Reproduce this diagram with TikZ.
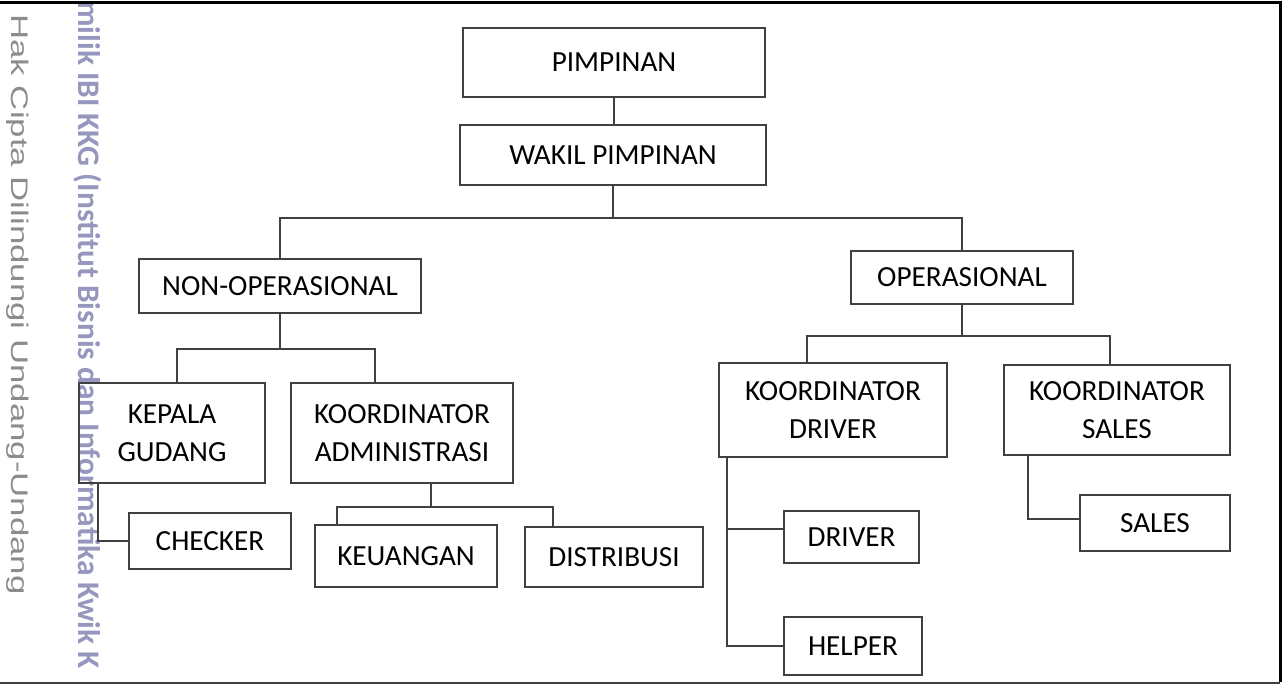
\documentclass[tikz,border=0pt]{standalone}
\usepackage{fontspec}
\setmainfont{Carlito}
\newfontfamily\hakfont[FakeStretch=1.45]{Liberation Sans}
\usepackage{xcolor}
\definecolor{linegray}{RGB}{64,64,64}
\definecolor{wmblue}{RGB}{150,150,190}
\definecolor{wmgray}{RGB}{140,140,140}

\begin{document}
\begin{tikzpicture}[x=0.5pt,y=-0.5pt,
  box/.style={draw=linegray, line width=1pt, align=center, inner sep=0pt, font=\fontsize{14.6}{19}\selectfont},
  link/.style={draw=linegray, line width=1pt}]
\useasboundingbox (0,0) rectangle (1285,684);

\node [rotate=-90, anchor=west, inner sep=0pt, text=wmgray, font=\hakfont\fontsize{12}{14}\selectfont] (hak) at (18,14) {Hak Cipta Dilindungi Undang-Undang};
\node [rotate=-90, anchor=west, inner sep=0pt, text=wmblue, font=\bfseries\fontsize{15.7}{18}\selectfont] (milik) at (88,1) {milik IBI KKG (Institut Bisnis dan Informatika Kwik K};

\draw [line width=1.5pt] (0,3) -- (1280,3) -- (1280,682);
\draw [line width=1pt, linegray] (0,682.5) -- (1280,682.5);

\node [box, minimum width=151pt, minimum height=34.5pt] (pimpinan) at (614,62.5) {PIMPINAN};
\node [box, minimum width=153pt, minimum height=30pt] (wakil) at (613,155) {WAKIL PIMPINAN};
\node [box, minimum width=141pt, minimum height=27pt] (nonop) at (280,286) {NON-OPERASIONAL};
\node [box, minimum width=111pt, minimum height=26.5pt] (oper) at (962,277.5) {OPERASIONAL};
\node [box, minimum width=93pt, minimum height=50pt] (kepala) at (172,433) {KEPALA\\GUDANG};
\node [box, minimum width=111pt, minimum height=50pt] (kadmin) at (402,433) {KOORDINATOR\\ADMINISTRASI};
\node [box, minimum width=81pt, minimum height=28pt] (checker) at (210,541) {CHECKER};
\node [box, minimum width=91pt, minimum height=31pt] (keuangan) at (406,556) {KEUANGAN};
\node [box, minimum width=89pt, minimum height=30pt] (distribusi) at (614,557) {DISTRIBUSI};
\node [box, minimum width=114pt, minimum height=47pt] (kdriver) at (833,410) {KOORDINATOR\\DRIVER};
\node [box, minimum width=113pt, minimum height=45pt] (ksales) at (1117,410) {KOORDINATOR\\SALES};
\node [box, minimum width=67.5pt, minimum height=26pt] (driver) at (851.5,537) {DRIVER};
\node [box, minimum width=69pt, minimum height=29pt] (helper) at (853,646) {HELPER};
\node [box, minimum width=75pt, minimum height=28pt] (sales) at (1155,523) {SALES};

\draw [link] (pimpinan.south) -- (pimpinan.south |- wakil.north);
\coordinate (topbus) at (613,218);
\draw [link] (wakil.south) -- (topbus);
\draw [link] (nonop.north) |- (topbus) -| (oper.north);

\coordinate (nonbus) at (280,349);
\draw [link] (nonop.south) -- (nonbus);
\draw [link] ([xshift=2.5pt]kepala.north) |- (nonbus) -| ([xshift=-13.5pt]kadmin.north);

\coordinate (opbus) at (962,336);
\draw [link] (oper.south) -- (opbus);
\draw [link] ([xshift=-13pt]kdriver.north) |- (opbus) -| ([xshift=-3.5pt]ksales.north);

\coordinate (admbus) at (431,507);
\draw [link] ([xshift=14.5pt]kadmin.south) -- (admbus);
\draw [link] ([xshift=-34.5pt]keuangan.north) |- (admbus) -| ([xshift=-30.5pt]distribusi.north);

\draw [link] ([xshift=10pt]kepala.south west) |- (checker.west);
\draw [link] ([xshift=4.5pt]kdriver.south west) |- ([yshift=4pt]driver.west);
\draw [link] ([xshift=4.5pt]kdriver.south west) |- (helper.west);
\draw [link] ([xshift=12.5pt]ksales.south west) |- ([yshift=2pt]sales.west);

\end{tikzpicture}
\end{document}
